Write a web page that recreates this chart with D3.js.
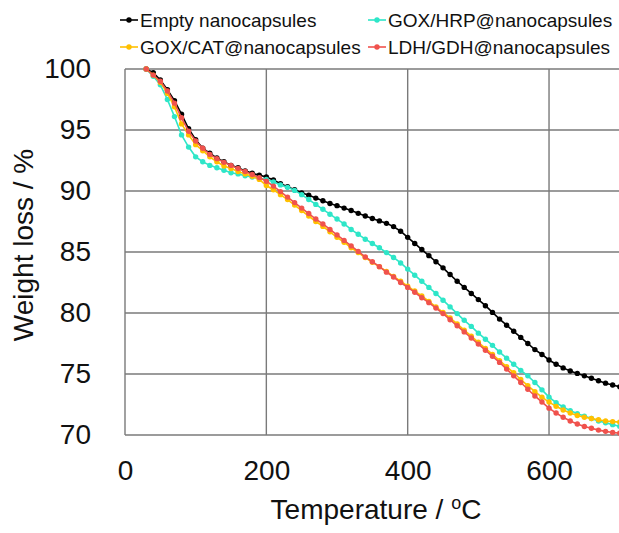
<!DOCTYPE html>
<html>
<head>
<meta charset="utf-8">
<script src="https://cdn.jsdelivr.net/npm/d3@7"></script>
<style>
  body { margin: 0; background: #fff; }
  svg { display: block; font-family: "Liberation Sans", Arial, sans-serif; }
</style>
</head>
<body>
<svg id="chart" width="619" height="533"></svg>
<script>
// data
var temps = [30,40,50,60,70,80,90,100,110,120,130,140,150,160,170,180,190,200,210,220,230,240,250,260,270,280,290,300,
  310,320,330,340,350,360,370,380,390,400,410,420,430,440,450,460,470,480,490,500,510,520,530,540,550,560,570,580,590,600,
  610,620,630,640,650,660,670,680,690,700];

var emptyVals = [100,99.7,99.1,98.3,97.4,96.3,95.1,94.2,93.5,93.1,92.7,92.4,92.1,91.9,91.65,91.45,91.3,91.15,90.9,90.6,90.35,90.1,89.85,89.65,89.42,89.2,88.98,88.8,
  88.6,88.4,88.17,87.95,87.75,87.55,87.35,87.08,86.7,86.2,85.7,85.2,84.7,84.2,83.7,83.15,82.6,82.1,81.6,81.1,80.6,80.05,79.5,79.0,78.5,78.0,77.5,77.0,76.6,76.15,
  75.8,75.5,75.25,75.05,74.85,74.65,74.45,74.25,74.1,73.95];

var hrpVals = [100,99.4,98.7,97.5,96.1,94.6,93.6,92.8,92.4,92.1,91.9,91.7,91.5,91.4,91.25,91.15,91.05,90.95,90.75,90.5,90.3,90.05,89.7,89.3,88.9,88.5,88.1,87.7,
  87.3,86.85,86.45,86.05,85.7,85.35,84.95,84.55,84.1,83.6,83.1,82.6,82.1,81.6,81.05,80.5,79.95,79.4,78.9,78.35,77.85,77.35,76.8,76.3,75.8,75.3,74.85,74.3,73.7,73.1,
  72.65,72.3,72.0,71.75,71.55,71.35,71.15,71.0,70.85,70.7];

var catVals = [100,99.5,98.9,98.0,96.9,95.5,94.6,93.8,93.3,92.8,92.4,92.05,91.85,91.6,91.4,91.2,90.95,90.45,90.1,89.7,89.3,88.85,88.4,87.95,87.5,87.1,86.65,86.2,
  85.8,85.35,84.95,84.55,84.15,83.8,83.4,83.0,82.6,82.2,81.8,81.4,80.95,80.5,80.05,79.6,79.1,78.6,78.1,77.6,77.1,76.6,76.1,75.6,75.1,74.55,74.05,73.55,73.1,72.7,
  72.35,72.05,71.8,71.6,71.45,71.35,71.25,71.15,71.1,71.05];

var ldhVals = [100,99.5,99.0,98.2,97.2,96.0,94.9,94.1,93.5,93.0,92.65,92.35,92.1,91.85,91.6,91.35,91.1,90.8,90.4,89.95,89.5,89.05,88.6,88.15,87.7,87.3,86.85,86.4,
  85.95,85.5,85.05,84.6,84.2,83.8,83.35,82.95,82.5,82.1,81.7,81.25,80.85,80.4,79.95,79.45,78.95,78.45,77.95,77.45,76.95,76.45,75.95,75.4,74.85,74.3,73.75,73.2,72.7,72.2,
  71.8,71.45,71.15,70.9,70.7,70.55,70.4,70.3,70.2,70.15];

var seriesNames = ["Empty nanocapsules", "GOX/HRP@nanocapsules", "GOX/CAT@nanocapsules", "LDH/GDH@nanocapsules"];
var seriesColors = ["#000000", "#2ee6c8", "#ffc000", "#f0524d"];
var xTicks = [0, 200, 400, 600];
var yTicks = [70, 75, 80, 85, 90, 95, 100];

var allVals = [emptyVals, hrpVals, catVals, ldhVals];

var svg = d3.select("#chart");
var x = d3.scaleLinear().domain([0, 700]).range([125, 619.7]);
var y = d3.scaleLinear().domain([70, 100]).range([435, 69]);

// grid
var grid = svg.append("g").attr("stroke", "#7a7a7a").attr("stroke-width", 1.4);
grid.selectAll(".hg").data(yTicks).enter().append("line")
  .attr("x1", x(0)).attr("x2", x(700)).attr("y1", function(d) { return y(d); }).attr("y2", function(d) { return y(d); });
grid.selectAll(".vg").data(xTicks).enter().append("line")
  .attr("y1", y(70)).attr("y2", y(100)).attr("x1", function(d) { return x(d); }).attr("x2", function(d) { return x(d); });

// axes (labels only)
var yAxis = svg.append("g").attr("transform", "translate(" + x(0) + ",0)")
  .call(d3.axisLeft(y).tickValues(yTicks).tickSize(0).tickPadding(34));
var xAxis = svg.append("g").attr("transform", "translate(0," + y(70) + ")")
  .call(d3.axisBottom(x).tickValues(xTicks).tickSize(0).tickPadding(25));
[yAxis, xAxis].forEach(function(a) {
  a.select(".domain").remove();
  a.selectAll("text").style("font-size", "28px").style("font-family", "Liberation Sans, Arial, sans-serif").attr("fill", "#111");
});

// lines + markers
var line = d3.line().x(function(d, i) { return x(temps[i]); }).y(function(d) { return y(d); });
allVals.forEach(function(vals, k) {
  var g = svg.append("g");
  g.append("path").datum(vals).attr("d", line).attr("fill", "none")
    .attr("stroke", seriesColors[k]).attr("stroke-width", 1.6);
  g.selectAll("circle").data(vals).enter().append("circle")
    .attr("cx", function(d, i) { return x(temps[i]); })
    .attr("cy", function(d) { return y(d); })
    .attr("r", 2.7).attr("fill", seriesColors[k]);
});

// titles
svg.append("text").attr("transform", "translate(33,245) rotate(-90)").attr("text-anchor", "middle")
  .style("font-size", "28px").attr("fill", "#111").text("Weight loss / %");
var xt = svg.append("text").attr("x", 376).attr("y", 519).attr("text-anchor", "middle")
  .style("font-size", "28px").attr("fill", "#111");
xt.append("tspan").text("Temperature / ");
xt.append("tspan").attr("dy", -10).style("font-size", "18px").text("o");
xt.append("tspan").attr("dy", 10).text("C");

// legend
var legPos = [[120, 20], [368, 20], [120, 47], [368, 47]];
seriesNames.forEach(function(name, k) {
  var lg = svg.append("g").attr("transform", "translate(" + legPos[k][0] + "," + legPos[k][1] + ")");
  lg.append("line").attr("x1", 0).attr("x2", 18).attr("stroke", seriesColors[k]).attr("stroke-width", 1.6);
  lg.append("circle").attr("cx", 9).attr("r", 2.7).attr("fill", seriesColors[k]);
  lg.append("text").attr("x", 20).attr("y", 7).style("font-size", "19px").attr("fill", "#111").text(name);
});
</script>
</body>
</html>
